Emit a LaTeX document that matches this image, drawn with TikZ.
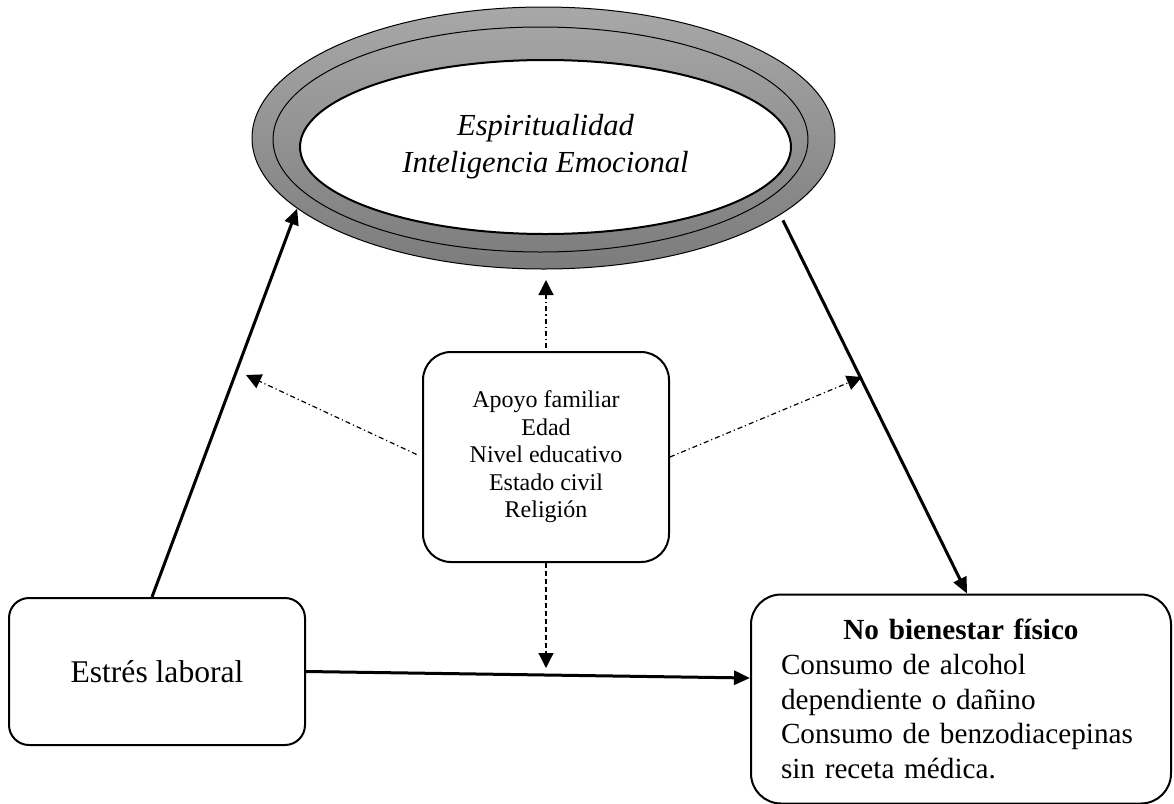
\documentclass[tikz,border=0pt]{standalone}
\usepackage{fontspec}
\setmainfont{Liberation Serif}
\usepackage{xcolor}
\definecolor{ringtop}{RGB}{168,168,168}
\definecolor{ringbot}{RGB}{124,124,124}
\usetikzlibrary{arrows.meta, shapes.geometric}

\begin{document}
\begin{tikzpicture}[x=0.5pt, y=-0.5pt,
    roundbox/.style={draw, line width=1pt, fill=white, inner sep=0pt},
    mainarrow/.style={-{Triangle[length=8pt,width=7pt]}, line width=1.5pt},
    dotarrow/.style={-{Triangle[length=7.5pt,width=7.5pt]}, line width=0.6pt,
                     dash pattern=on 2.5pt off 1.5pt on 0.6pt off 1.5pt},
    dasharrow/.style={-{Triangle[length=7.5pt,width=7.5pt]}, line width=0.6pt,
                      dash pattern=on 2.5pt off 1.5pt}]
      \useasboundingbox (0,0) rectangle (1174,804);
      % Ring at top
      \node[ellipse, draw, line width=0.5pt, top color=ringtop, bottom color=ringbot,
            minimum width=291.5pt, minimum height=131pt, inner sep=0pt]
            (ring) at (543.5,138) {};
      \node[ellipse, draw, line width=0.5pt,
            minimum width=267.5pt, minimum height=112.5pt, inner sep=0pt]
            (ringmid) at (540.5,139.5) {};
      \node[ellipse, draw, line width=1pt, fill=white, inner sep=0pt,
            minimum width=245.5pt, minimum height=87pt, align=center,
            font=\fontsize{15.3}{18.5}\selectfont\itshape]
            (core) at (545.5,147) {Espiritualidad\\Inteligencia Emocional};
      % Moderators in the middle
      \node[roundbox, rounded corners=14pt, minimum width=123pt, minimum height=105pt,
            align=center, font=\fontsize{12}{13.75}\selectfont]
            (mods) at (546,457) {Apoyo familiar\\Edad\\Nivel educativo\\Estado civil\\Religión};
      % Cause and outcome at bottom
      \node[roundbox, rounded corners=10pt, minimum width=148pt, minimum height=73.5pt,
            font=\fontsize{15.8}{19}\selectfont]
            (stress) at (157,671.5) {Estrés laboral};
      \node[roundbox, rounded corners=15pt, minimum width=210pt, minimum height=104.5pt,
            text width=180pt, font=\fontsize{14.6}{17.3}\selectfont]
            (outcome) at (961,699)
            {\parindent=0pt{\centering\textbf{No bienestar físico}\par}\raggedright
             Consumo de alcohol\\dependiente o dañino\\Consumo de benzodiacepinas\\sin receta médica.};
      % Free ends of the moderator arrows
      \coordinate (tipup) at (546,280);
      \coordinate (tipleft) at (246,375);
      \coordinate (tipright) at (862,377);
      \coordinate (tipdown) at (546,668);
      % Main paths
      \draw[mainarrow] ([xshift=-2.5pt]stress.north) -- (ring.196);
      \draw[mainarrow, shorten <=3pt] (ring.-18) -- ([xshift=3pt]outcome.north);
      \draw[mainarrow] (stress.east) -- ([yshift=10.5pt]outcome.west);
      % Moderator arrows
      \draw[dotarrow, shorten <=1.5pt] (mods.north) -- (tipup);
      \draw[dotarrow, shorten <=3pt] (mods.west) -- (tipleft);
      \draw[dotarrow] (mods.east) -- (tipright);
      \draw[dasharrow] (mods.south) -- (tipdown);
\end{tikzpicture}
\end{document}
